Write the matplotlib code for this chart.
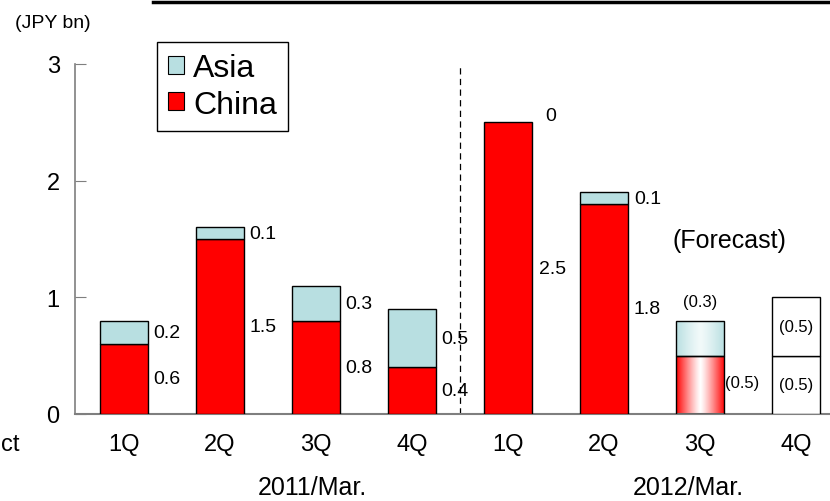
import matplotlib
matplotlib.use("Agg")
import matplotlib.pyplot as plt
import numpy as np
from matplotlib.patches import Patch
from matplotlib.lines import Line2D
from matplotlib.colors import LinearSegmentedColormap

plt.rcParams['font.family'] = ['Liberation Sans', 'DejaVu Sans']

# ---- data ----
quarters = ["1Q", "2Q", "3Q", "4Q", "1Q", "2Q", "3Q", "4Q"]
years = ["2011/Mar.", "2012/Mar."]
china = [0.6, 1.5, 0.8, 0.4, 2.5, 1.8, 0.5, 0.5]
asia = [0.2, 0.1, 0.3, 0.5, 0.0, 0.1, 0.3, 0.5]
china_labels = ["0.6", "1.5", "0.8", "0.4", "2.5", "1.8", "(0.5)", "(0.5)"]
asia_labels = ["0.2", "0.1", "0.3", "0.5", "0", "0.1", "(0.3)", "(0.5)"]
kind = ["actual"] * 6 + ["forecast", "unknown"]
yticks = [0, 1, 2, 3]

RED = "#FF0000"
BLUE = "#B8DFE1"

fig = plt.figure(figsize=(8.30, 5.02), dpi=100)
ax = fig.add_axes([75/830, 87/502, 755/830, 350/502])
x = np.arange(len(quarters))
w = 0.5
ax.set_xlim(-0.51, 7.354)
ax.set_ylim(0, 3)

for i in range(len(quarters)):
    c, a = china[i], asia[i]
    if kind[i] == "actual":
        ax.bar(x[i], c, w, color=RED, edgecolor="black", linewidth=1, zorder=3)
        if a > 0:
            ax.bar(x[i], a, w, bottom=c, color=BLUE, edgecolor="black", linewidth=1, zorder=3)
    elif kind[i] == "forecast":
        g = np.abs(np.linspace(-1, 1, 200))[None, :]
        cm_red = LinearSegmentedColormap.from_list("r", ["white", RED])
        cm_blue = LinearSegmentedColormap.from_list("b", ["#F2FAFA", BLUE])
        ax.imshow(g ** 1.2, cmap=cm_red, aspect="auto",
                  extent=(x[i] - w/2, x[i] + w/2, 0, c), zorder=2, vmin=0, vmax=1)
        ax.imshow(g ** 1.2, cmap=cm_blue, aspect="auto",
                  extent=(x[i] - w/2, x[i] + w/2, c, c + a), zorder=2, vmin=0, vmax=1)
        ax.bar(x[i], c, w, color="none", edgecolor="black", linewidth=1, zorder=3)
        ax.bar(x[i], a, w, bottom=c, color="none", edgecolor="black", linewidth=1, zorder=3)
    else:
        ax.bar(x[i], c, w, color="white", edgecolor="black", linewidth=1, zorder=3)
        ax.bar(x[i], a, w, bottom=c, color="white", edgecolor="black", linewidth=1, zorder=3)

# value labels
fs_val = 14
for i in range(len(quarters)):
    c, a = china[i], asia[i]
    if kind[i] == "actual":
        dx = 0.06 if i != 4 else 0.07
        ax.text(x[i] + w/2 + dx, c/2, china_labels[i], fontsize=fs_val, va="center", ha="left", zorder=4)
        ya = c + a/2 if a > 0 else c + 0.06
        dxa = 0.06 if i != 4 else 0.14
        ax.text(x[i] + w/2 + dxa, ya, asia_labels[i], fontsize=fs_val, va="center", ha="left", zorder=4)
    elif kind[i] == "forecast":
        ax.text(x[i] + w/2 + 0.01, 0.27, china_labels[i], fontsize=12, va="center", ha="left", zorder=4)
        ax.text(x[i], c + a + 0.1, asia_labels[i], fontsize=12, va="bottom", ha="center", zorder=4)
    else:
        ax.text(x[i], c/2, china_labels[i], fontsize=12, va="center", ha="center", zorder=4)
        ax.text(x[i], c + a/2, asia_labels[i], fontsize=12, va="center", ha="center", zorder=4)

ax.text(6.31, 1.49, "(Forecast)", fontsize=18, ha="center", va="center")

# divider
ax.plot([3.5, 3.5], [0, 3], color="black", linestyle=(0, (5, 3.5)), linewidth=0.9, zorder=1)

# axes styling
for s in ["top", "right"]:
    ax.spines[s].set_visible(False)
ax.spines["left"].set_color("#7F7F7F")
ax.spines["bottom"].set_color("#7F7F7F")
ax.spines["left"].set_linewidth(1.2)
ax.spines["bottom"].set_linewidth(1.5)
ax.set_yticks(yticks)
ax.set_yticklabels([str(t) for t in yticks], fontsize=17)
ax.tick_params(axis="y", direction="in", length=8, color="#7F7F7F", pad=11)
ax.set_xticks(x)
ax.set_xticklabels(quarters, fontsize=17)
ax.tick_params(axis="x", length=0, pad=14)

tr = ax.get_xaxis_transform()
ax.text(1.96, -0.243, years[0], fontsize=18, ha="center", va="bottom", transform=tr)
ax.text(5.875, -0.243, years[1], fontsize=18, ha="center", va="bottom", transform=tr)

# legend
handles = [Patch(facecolor=BLUE, edgecolor="black", linewidth=0.8),
           Patch(facecolor=RED, edgecolor="black", linewidth=0.8)]
leg = ax.legend(handles, ["Asia", "China"], fontsize=23, loc="upper left",
                bbox_to_anchor=(157/830, 1 - 43/502), bbox_transform=fig.transFigure,
                handlelength=0.48, handleheight=0.48, handletextpad=0.3,
                labelspacing=0.2, borderpad=0.35, fancybox=False, framealpha=1,
                borderaxespad=0)
leg.get_frame().set_edgecolor("black")
leg.get_frame().set_linewidth(1.0)

# figure texts
fig.text(15/830, 1 - 23/502, "(JPY bn)", fontsize=14, ha="left", va="center")
fig.text(1/830, 1 - 445/502, "ct", fontsize=17, ha="left", va="center")
fig.add_artist(Line2D([153/830, 1.0], [1 - 3/502, 1 - 3/502], color="black", linewidth=2.5))

fig.savefig("out.png", dpi=100)
